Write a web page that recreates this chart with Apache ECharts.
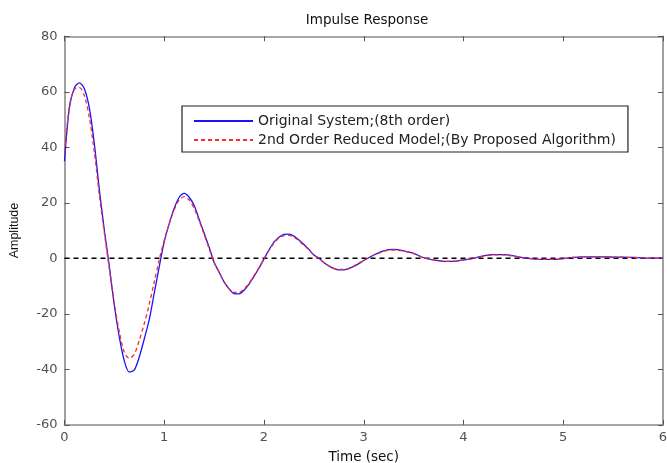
<!DOCTYPE html>
<html>
<head>
<meta charset="utf-8">
<script src="https://cdn.jsdelivr.net/npm/echarts@6/dist/echarts.min.js"></script>
<style>
  html, body { margin: 0; padding: 0; background: #fff; }
  #chart { width: 667px; height: 463px; }
</style>
</head>
<body>
<div id="chart"></div>
<script>
// Sample times (s): fine spacing over the large early swings, coarser for the tail
const timeFine = [0.00,0.05,0.10,0.15,0.20,0.25,0.30,0.35,0.40,0.45,0.50,0.55,0.60,0.65,0.70,0.75,0.80,0.85,0.90,0.95,
  1.00,1.05,1.10,1.15,1.20,1.25,1.30,1.35,1.40,1.45,1.50,1.55,1.60,1.65,1.70,1.75,1.80,1.85,1.90,1.95,
  2.00,2.05,2.10,2.15,2.20,2.25,2.30,2.35,2.40,2.45,2.50,2.55,2.60,2.65,2.70,2.75,2.80,2.85,2.90,2.95,3.00];
const timeTail = [3.1,3.2,3.3,3.4,3.5,3.6,3.7,3.8,3.9,4.0,4.1,4.2,4.3,4.4,4.5,4.6,4.7,4.8,4.9,5.0,
  5.1,5.2,5.3,5.4,5.5,5.6,5.7,5.8,5.9,6.0];

// Impulse response of the original 8th-order system
const originalFine = [35,54.5,61.5,63.2,61,54,41,24.5,10,-3,-17,-28.5,-37,-41,-40.2,-35.5,-29,-22,-12.5,-3,
  6,12.5,18,22,23.4,22,19,14,9,4,-1.5,-5,-8.5,-11,-12.7,-12.8,-11.5,-9.3,-6.5,-3.5,
  -0.2,3,5.8,7.6,8.6,8.7,8,6.6,5,3.2,1.2,0,-1.5,-2.8,-3.7,-4.2,-4.2,-3.7,-2.9,-1.9,-0.8];
const originalTail = [1.2,2.7,3.2,2.7,1.8,0.2,-0.6,-1.1,-1.1,-0.6,0,0.9,1.3,1.3,0.9,0.2,-0.2,-0.4,-0.4,-0.1,
  0.3,0.5,0.5,0.5,0.45,0.4,0.3,0.15,0.05,0];

// Impulse response of the 2nd-order reduced model
const reducedFine = [38,55,61,61.5,58.5,50.5,38,22.5,9,-4,-16.5,-26.5,-34,-36,-34.5,-29.5,-23.5,-16.5,-8.5,-0.5,
  6.5,12.5,17.5,21,22.2,21,18,13.5,8.5,3.5,-1.5,-5,-8.5,-11,-12.3,-12.3,-11,-9,-6.3,-3.3,
  -0.3,2.8,5.5,7.3,8.2,8.3,7.6,6.3,4.7,3,1.1,-0.1,-1.5,-2.7,-3.6,-4,-4,-3.6,-2.8,-1.8,-0.8];
const reducedTail = [1.1,2.5,3.0,2.6,1.7,0.2,-0.6,-1.1,-1.0,-0.6,0,0.8,1.2,1.2,0.8,0.2,-0.2,-0.4,-0.4,-0.1,
  0.3,0.5,0.5,0.5,0.45,0.4,0.3,0.15,0.05,0];

const xTicks = [0, 1, 2, 3, 4, 5, 6];
const yTicks = [-60, -40, -20, 0, 20, 40, 60, 80];
const zeroLine = [0, 0];

const seriesNames = ['Original System;(8th order)', '2nd Order Reduced Model;(By Proposed Algorithm)'];

const times = timeFine.concat(timeTail);
const pair = (vals) => times.map((t, i) => [t, vals[i]]);
const originalData = pair(originalFine.concat(originalTail));
const reducedData = pair(reducedFine.concat(reducedTail));

const WIDE = 'DejaVu Sans, Verdana, sans-serif';
const NARROW = 'Liberation Sans, Arial, sans-serif';
const AXIS_COL = '#8a8a8a';
const LABEL_COL = '#505058';

const chart = echarts.init(document.getElementById('chart'), null, { renderer: 'canvas' });

const boxAxisX = (pos, showLabel) => ({
  type: 'value', position: pos, min: xTicks[0], max: xTicks[xTicks.length - 1], interval: 1,
  axisLine: { show: true, onZero: false, lineStyle: { color: AXIS_COL, width: 1.6 } },
  axisTick: { show: true, inside: true, length: 5, lineStyle: { color: '#555', width: 1 } },
  axisLabel: { show: showLabel, color: LABEL_COL, fontFamily: WIDE, fontSize: 13, margin: 6 },
  splitLine: { show: false }
});
const boxAxisY = (pos, showLabel) => ({
  type: 'value', position: pos, min: yTicks[0], max: yTicks[yTicks.length - 1], interval: 20,
  axisLine: { show: true, onZero: false, lineStyle: { color: AXIS_COL, width: 1.6 } },
  axisTick: { show: true, inside: true, length: 5, lineStyle: { color: '#555', width: 1 } },
  axisLabel: { show: showLabel, color: LABEL_COL, fontFamily: WIDE, fontSize: 13, margin: 7 },
  splitLine: { show: false }
});

const xBottom = boxAxisX('bottom', true);
xBottom.name = 'Time (sec)';
xBottom.nameLocation = 'middle';
xBottom.nameGap = 26;
xBottom.nameTextStyle = { color: '#111', fontFamily: WIDE, fontSize: 13.5 };

const yLeft = boxAxisY('left', true);
yLeft.name = 'Amplitude';
yLeft.nameLocation = 'middle';
yLeft.nameGap = 43;
yLeft.nameTextStyle = { color: '#111', fontFamily: NARROW, fontSize: 12.5 };

chart.setOption({
  animation: false,
  backgroundColor: '#ffffff',
  title: {
    text: 'Impulse Response', left: 362, top: 8, textAlign: 'center',
    textStyle: { color: '#111', fontFamily: WIDE, fontSize: 13.5, fontWeight: 'normal' }
  },
  grid: { left: 64.5, right: 4, top: 36.3, bottom: 38.2, containLabel: false, outerBoundsMode: 'none' },
  xAxis: [xBottom, boxAxisX('top', false)],
  yAxis: [yLeft, boxAxisY('right', false)],
  legend: {
    orient: 'vertical', left: 182, top: 106,
    padding: [8, 12, 5, 11], itemGap: 5, itemWidth: 59, itemHeight: 14,
    backgroundColor: '#fff', borderColor: '#222', borderWidth: 1.2,
    itemStyle: { opacity: 0 },
    textStyle: { color: '#222', fontFamily: WIDE, fontSize: 14 },
    data: seriesNames
  },
  series: [
    {
      name: 'zero', type: 'line', xAxisIndex: 0, yAxisIndex: 0,
      data: [[xTicks[0], zeroLine[0]], [xTicks[xTicks.length - 1], zeroLine[1]]],
      symbol: 'none', silent: true,
      lineStyle: { color: '#000', width: 1.5, type: [5, 4] }, z: 1
    },
    {
      name: seriesNames[0], type: 'line', xAxisIndex: 0, yAxisIndex: 0,
      data: originalData, symbol: 'none', smooth: 0.3,
      lineStyle: { color: '#1414ff', width: 1.3 }, itemStyle: { color: '#1414ff' }, z: 3
    },
    {
      name: seriesNames[1], type: 'line', xAxisIndex: 0, yAxisIndex: 0,
      data: reducedData, symbol: 'none', smooth: 0.3,
      lineStyle: { color: '#ff2a2a', width: 1.3, type: [4, 3] }, itemStyle: { color: '#ff2a2a' }, z: 4
    }
  ]
});
</script>
</body>
</html>
